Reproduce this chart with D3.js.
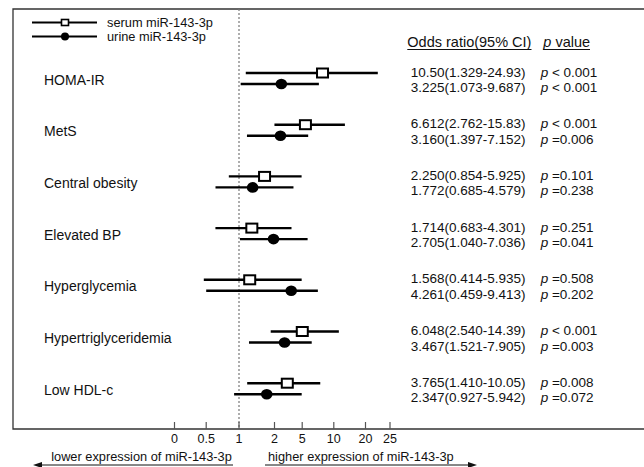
<!DOCTYPE html>
<html>
<head>
<meta charset="utf-8">
<script src="https://cdn.jsdelivr.net/npm/d3@7"></script>
<style>
  html, body { margin: 0; padding: 0; background: #fff; }
  svg { display: block; }
  text { font-family: "Liberation Sans", Arial, sans-serif; fill: #111; }
</style>
</head>
<body>
<svg id="chart" width="644" height="467"></svg>
<script>
// ---------- data ----------
const categories = ["HOMA-IR", "MetS", "Central obesity", "Elevated BP", "Hyperglycemia", "Hypertriglyceridemia", "Low HDL-c"];
const serumOR   = [10.50, 6.612, 2.250, 1.714, 1.568, 6.048, 3.765];
const serumLow  = [1.329, 2.762, 0.854, 0.683, 0.414, 2.540, 1.410];
const serumHigh = [24.93, 15.83, 5.925, 4.301, 5.935, 14.39, 10.05];
const serumP    = ["<", "<", "=", "=", "=", "<", "="];
const serumPval = ["0.001", "0.001", "0.101", "0.251", "0.508", "0.001", "0.008"];
const urineOR   = [3.225, 3.160, 1.772, 2.705, 4.261, 3.467, 2.347];
const urineLow  = [1.073, 1.397, 0.685, 1.040, 0.459, 1.521, 0.927];
const urineHigh = [9.687, 7.152, 4.579, 7.036, 9.413, 7.905, 5.942];
const urineP    = ["<", "=", "=", "=", "=", "=", "="];
const urinePval = ["0.001", "0.006", "0.238", "0.041", "0.202", "0.003", "0.072"];
const tickValues = [0, 0.5, 1, 2, 5, 10, 20, 25];
const tickLabels = ["0", "0.5", "1", "2", "5", "10", "20", "25"];
const seriesNames = ["serum miR-143-3p", "urine miR-143-3p"];

// ---------- setup ----------
const svg = d3.select("#chart");
const fmt = v => v >= 10 ? v.toFixed(2) : v.toFixed(3);

// data scale (piecewise log, as in the figure)
const x = d3.scaleLog()
  .domain([0.4, 0.7, 1, 1.8, 2.5, 3.5, 6, 10, 15, 25])
  .range([203, 216, 239, 253, 270, 285, 302, 320, 341, 378]);
// tick scale (labels as placed in the figure)
const xt = d3.scaleLinear()
  .domain(tickValues)
  .range([174, 205.7, 238.5, 274, 301.7, 333.3, 365, 389.5]);
const y = d3.scalePoint().domain(categories).range([78.5, 388.7]);

const frameL = 13, frameT = 9, frameB = 429, frameR = 644;

// frame
svg.append("path")
  .attr("d", `M${frameR},${frameT}H${frameL}V${frameB}H${frameR}`)
  .attr("fill", "none").attr("stroke", "#333").attr("stroke-width", 1.3);

// reference line at OR = 1
svg.append("line")
  .attr("x1", x(1)).attr("x2", x(1)).attr("y1", frameT).attr("y2", frameB)
  .attr("stroke", "#777").attr("stroke-width", 1.2).attr("stroke-dasharray", "2,2");

// axis
const axis = d3.axisBottom(xt).tickValues(tickValues)
  .tickFormat((d, i) => tickLabels[i]).tickSize(-7).tickPadding(5.5);
const gAxis = svg.append("g").attr("transform", `translate(0,${frameB})`).call(axis);
gAxis.select(".domain").remove();
gAxis.selectAll(".tick line").attr("stroke", "#555").attr("stroke-width", 1.2);
gAxis.selectAll(".tick text").attr("font-size", 12.5).attr("fill", "#111")
  .attr("font-family", '"Liberation Sans", Arial, sans-serif');

// rows
const rows = categories.map((c, i) => ({
  cat: c,
  serum: { or: serumOR[i], lo: serumLow[i], hi: serumHigh[i], op: serumP[i], p: serumPval[i] },
  urine: { or: urineOR[i], lo: urineLow[i], hi: urineHigh[i], op: urineP[i], p: urinePval[i] }
}));

const sOff = -5.5, uOff = 5.5;

// category labels
svg.selectAll("text.cat").data(rows).join("text")
  .attr("class", "cat")
  .attr("x", 44).attr("y", d => y(d.cat) + 6)
  .attr("font-size", 14)
  .text(d => d.cat);

// CI lines
[["serum", sOff], ["urine", uOff]].forEach(([k, off]) => {
  svg.selectAll("line.ci-" + k).data(rows).join("line")
    .attr("class", "ci-" + k)
    .attr("x1", d => x(d[k].lo)).attr("x2", d => x(d[k].hi))
    .attr("y1", d => y(d.cat) + off).attr("y2", d => y(d.cat) + off)
    .attr("stroke", "#000").attr("stroke-width", 2.4);
});

// serum squares
svg.selectAll("rect.sq").data(rows).join("rect")
  .attr("class", "sq")
  .attr("x", d => x(d.serum.or) - 5.5).attr("y", d => y(d.cat) + sOff - 4.5)
  .attr("width", 11).attr("height", 9)
  .attr("fill", "#fff").attr("stroke", "#000").attr("stroke-width", 2);

// urine circles
svg.selectAll("ellipse.dot").data(rows).join("ellipse")
  .attr("class", "dot")
  .attr("cx", d => x(d.urine.or)).attr("cy", d => y(d.cat) + uOff)
  .attr("rx", 5.8).attr("ry", 5.3).attr("fill", "#000");

// table header
const hdr = svg.append("g").attr("font-size", 14.5);
hdr.append("text").attr("x", 407.3).attr("y", 47).text("Odds ratio(95% CI)");
hdr.append("line").attr("x1", 407.3).attr("x2", 531.5).attr("y1", 49.5).attr("y2", 49.5)
  .attr("stroke", "#111").attr("stroke-width", 1);
const pv = hdr.append("text").attr("x", 543.3).attr("y", 47);
pv.append("tspan").attr("font-style", "italic").text("p");
pv.append("tspan").text(" value");
hdr.append("line").attr("x1", 543.3).attr("x2", 590).attr("y1", 49.5).attr("y2", 49.5)
  .attr("stroke", "#111").attr("stroke-width", 1);

// table rows
[["serum", -2], ["urine", 13.5]].forEach(([k, off]) => {
  svg.selectAll("text.or-" + k).data(rows).join("text")
    .attr("class", "or-" + k)
    .attr("x", 410.7).attr("y", d => y(d.cat) + off)
    .attr("font-size", 13.5)
    .text(d => `${fmt(d[k].or)}(${fmt(d[k].lo)}-${fmt(d[k].hi)})`);
  const t = svg.selectAll("text.p-" + k).data(rows).join("text")
    .attr("class", "p-" + k)
    .attr("x", 540.7).attr("y", d => y(d.cat) + off)
    .attr("font-size", 13.5);
  t.append("tspan").attr("font-style", "italic").text("p");
  t.append("tspan").text(d => d[k].op === "<" ? " < " : " =");
  t.append("tspan").text(d => d[k].p);
});

// legend
const leg = svg.append("g");
[22.5, 36.5].forEach((ly, i) => {
  leg.append("line").attr("x1", 32).attr("x2", 97).attr("y1", ly).attr("y2", ly)
    .attr("stroke", "#000").attr("stroke-width", 2.2);
  if (i === 0) {
    leg.append("rect").attr("x", 61.5).attr("y", ly - 3).attr("width", 7).attr("height", 6)
      .attr("fill", "#fff").attr("stroke", "#000").attr("stroke-width", 1.6);
  } else {
    leg.append("circle").attr("cx", 65).attr("cy", ly).attr("r", 4).attr("fill", "#000");
  }
  leg.append("text").attr("x", 107).attr("y", ly + 4.5).attr("font-size", 12.8).text(seriesNames[i]);
});

// direction arrows
const arr = svg.append("g");
arr.append("text").attr("x", 141.5).attr("y", 461).attr("text-anchor", "middle")
  .attr("font-size", 12.8).text("lower expression of miR-143-3p");
arr.append("text").attr("x", 268).attr("y", 461)
  .attr("font-size", 12.8).text("higher expression of miR-143-3p");
arr.append("line").attr("x1", 40).attr("x2", 233).attr("y1", 465).attr("y2", 465)
  .attr("stroke", "#111").attr("stroke-width", 1);
arr.append("path").attr("d", "M33,465L42,462L42,468Z").attr("fill", "#111");
arr.append("line").attr("x1", 265).attr("x2", 470).attr("y1", 465).attr("y2", 465)
  .attr("stroke", "#111").attr("stroke-width", 1);
arr.append("path").attr("d", "M477,465L468,462L468,468Z").attr("fill", "#111");
</script>
</body>
</html>
